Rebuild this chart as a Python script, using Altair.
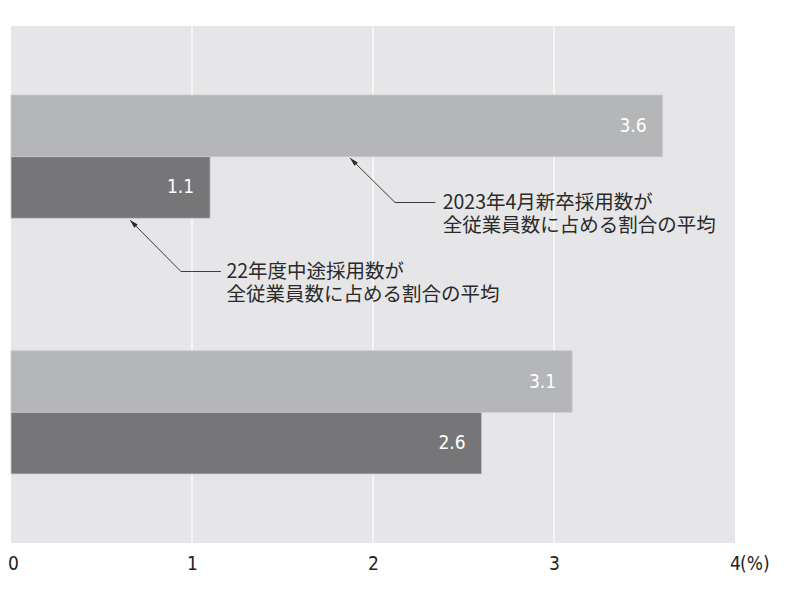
import altair as alt
import pandas as pd

# ---- data ----
groups = ["グループ1", "グループ2"]
series = ["2023年4月新卒採用数が全従業員数に占める割合の平均",
          "22年度中途採用数が全従業員数に占める割合の平均"]
shinsotsu = [3.6, 3.1]
chuto = [1.1, 2.6]
x_ticks = [0, 1, 2, 3, 4]
grid_vals = [1, 2, 3]

# annotation texts and leader positions (x in %, y as fraction of plot height)
ann_texts = [["2023年4月新卒採用数が", "全従業員数に占める割合の平均"],
             ["22年度中途採用数が", "全従業員数に占める割合の平均"]]
ann_text_x = [2.385, 1.19]
ann_text_y = [0.3414, 0.4749]
lead_a_x = [1.873, 2.122, 2.345]
lead_a_y = [0.2553, 0.3414, 0.3414]
lead_b_x = [0.657, 0.939, 1.16]
lead_b_y = [0.3752, 0.4749, 0.4749]

rows = []
for g, a, b in zip(groups, shinsotsu, chuto):
    rows.append({"group": g, "series": series[0], "value": a})
    rows.append({"group": g, "series": series[1], "value": b})
df = pd.DataFrame(rows)

lead_rows = []
for i, (xx, yy) in enumerate(zip(lead_a_x, lead_a_y)):
    lead_rows.append({"id": "a", "ord": i, "x": xx, "y": yy})
for i, (xx, yy) in enumerate(zip(lead_b_x, lead_b_y)):
    lead_rows.append({"id": "b", "ord": i, "x": xx, "y": yy})
lead_df = pd.DataFrame(lead_rows)
tips_df = pd.DataFrame({"x": [lead_a_x[0], lead_b_x[0]], "y": [lead_a_y[0], lead_b_y[0]]})
ann_df = pd.DataFrame({"x": ann_text_x, "y": ann_text_y, "t": ann_texts})

NUM_FONT = "'Liberation Sans Narrow', 'DejaVu Sans Condensed', Roboto, sans-serif"
JP_FONT = "Noto Sans CJK JP"

W, H = 724, 517

xscale = alt.Scale(domain=[0, 4], nice=False, zero=True)
xaxis = alt.Axis(values=x_ticks, grid=False, domain=False, ticks=False, format="d",
                 labelFont=NUM_FONT, labelFontSize=19, labelColor="#222222",
                 labelPadding=11, title=None, labelFlush=False,
                 labelOffset={"condition": {"test": "datum.value === 0", "value": 2}, "value": 0})
yscale = alt.Scale(domain=groups, paddingInner=0.518, paddingOuter=0.27)
yoff = alt.YOffset("series:N", sort=series, scale=alt.Scale(paddingInner=0, paddingOuter=0))

grid = alt.Chart(pd.DataFrame({"g": grid_vals})).mark_rule(color="white", strokeWidth=1.2).encode(
    x=alt.X("g:Q", scale=xscale, axis=xaxis),
)

bars = alt.Chart(df).mark_bar(stroke="#c9c9cb", strokeWidth=0.8).encode(
    x=alt.X("value:Q", scale=xscale, axis=xaxis),
    y=alt.Y("group:N", scale=yscale, axis=None, sort=groups),
    yOffset=yoff,
    color=alt.Color("series:N", sort=series,
                    scale=alt.Scale(domain=series, range=["#b5b6b8", "#767679"]),
                    legend=None),
)

labels = alt.Chart(df).mark_text(align="right", baseline="middle", dx=-16,
                                 color="white", font=NUM_FONT, fontSize=19).encode(
    x=alt.X("value:Q", scale=xscale),
    y=alt.Y("group:N", scale=yscale, axis=None, sort=groups),
    yOffset=yoff,
    text=alt.Text("value:Q", format=".1f"),
)

fy = alt.Scale(domain=[0, 1], reverse=True, nice=False, zero=False)

leaders = alt.Chart(lead_df).mark_line(color="#3a3a3a", strokeWidth=1).encode(
    x=alt.X("x:Q", scale=xscale),
    y=alt.Y("y:Q", scale=fy, axis=None),
    detail="id:N",
    order="ord:Q",
)

tips = alt.Chart(tips_df).mark_point(
    shape="M0,0L0.28,1L-0.28,1Z", filled=True, color="#2a2a2a", opacity=1,
    size=300, angle=315, strokeWidth=0,
).encode(
    x=alt.X("x:Q", scale=xscale),
    y=alt.Y("y:Q", scale=fy, axis=None),
)

ann = alt.Chart(ann_df).mark_text(align="left", baseline="middle", font=JP_FONT,
                                  fontSize=19.5, lineHeight=23, color="#2a2a2a").encode(
    x=alt.X("x:Q", scale=xscale),
    y=alt.Y("y:Q", scale=fy, axis=None),
    text="t",
)

pct = alt.Chart(pd.DataFrame({"x": [x_ticks[-1]], "t": ["(%)"]})).mark_text(
    align="left", baseline="middle", dx=5, font=NUM_FONT, fontSize=19, color="#222222"
).encode(
    x=alt.X("x:Q", scale=xscale),
    y=alt.value(H + 21),
    text="t",
)

chart = alt.layer(grid, bars, labels, leaders, tips, ann, pct).resolve_scale(
    y="independent"
).properties(
    width=W, height=H,
    autosize=alt.AutoSizeParams(type="none"),
    padding={"left": 3, "top": 18, "right": 50, "bottom": 50},
).configure_view(
    fill="#e6e6e8", stroke=None
)

chart.save("out.html", embed_options={"renderer": "svg", "actions": False})
